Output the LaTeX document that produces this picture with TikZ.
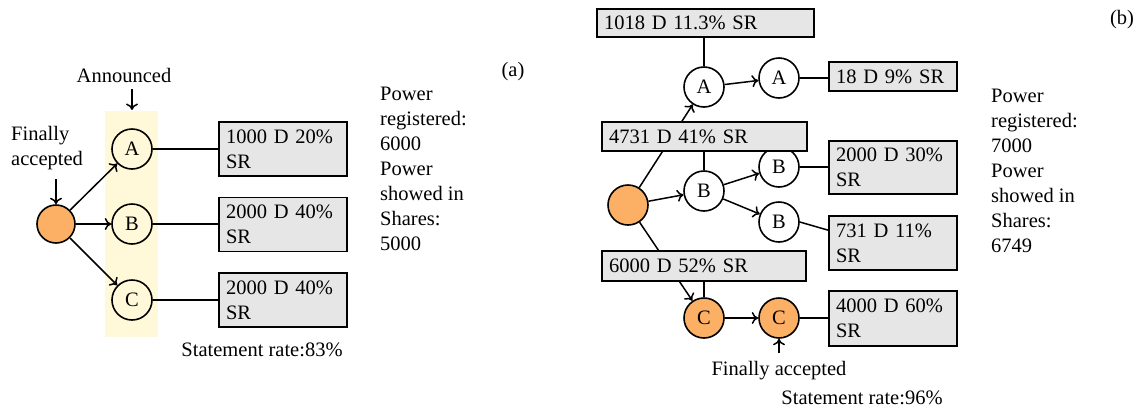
\documentclass[tikz,border=0pt]{standalone}
\usepackage{fontspec}
\setmainfont{Liberation Serif}
\usetikzlibrary{arrows.meta,backgrounds}
\definecolor{orfill}{RGB}{251,176,101}
\definecolor{bandc}{RGB}{255,249,218}
\definecolor{boxc}{RGB}{230,230,230}
\begin{document}
\begin{tikzpicture}[x=1pt,y=-1pt,
  every node/.style={font=\fontsize{20.5}{25}\selectfont},
  ln/.style={line width=1.5pt},
  arr/.style={ln,-{To[length=6.5pt,width=12pt]}},
  circ/.style={circle,draw,line width=1.6pt,minimum size=40pt,inner sep=0pt,fill=white},
  ocirc/.style={circ,fill=orfill},
  ycirc/.style={circ,fill=bandc},
  sbox/.style={draw,fill=boxc,line width=1.6pt,inner xsep=7pt,inner ysep=0pt,align=left},
  twobox/.style={sbox,text width=114pt,minimum height=54pt},
  txt/.style={inner sep=0pt}
]
\useasboundingbox (0,0) rectangle (1142,410);
% ---------- (a) ----------
\fill[bandc] (105,111) rectangle (158,337);
\node[ocirc,minimum size=38pt] (o1) at (56,224) {};
\node[ycirc] (aA) at (132,149) {A};
\node[ycirc] (aB) at (132,224) {B};
\node[ycirc] (aC) at (132,300) {C};
\node[twobox] (xA) at (283,149) {1000 D 20\%\\SR};
\node[twobox] (xB) at (283,224.5) {2000 D 40\%\\SR};
\node[twobox] (xC) at (283,300) {2000 D 40\%\\SR};
\draw[arr] (o1) -- (aA);
\draw[arr] (o1) -- (aB);
\draw[arr] (o1) -- (aC);
\draw[ln] (aA.east) -- (xA.west);
\draw[ln] (aB.east) -- (aB.east -| xB.west);
\draw[ln] (aC.east) -- (xC.west);
\node[txt] (ann) at (124,75) {Announced};
\coordinate (annt) at (132,89);
\draw[arr] (annt) -- (132,110);
\node[txt,align=left,anchor=west] (fa1) at (11,148) {Finally\\accepted};
\coordinate (fat) at (56,179);
\draw[arr] (fat) -- (o1.north);
\node[txt] (sr1) at (262,350) {Statement rate:83\%};
\node[txt] (la) at (513,72) {(a)};
\node[txt,align=left,anchor=north west] (pa) at (380,87) {Power\\registered:\\6000\\Power\\showed in\\Shares:\\5000};
% ---------- (b) ----------
\node[ocirc] (o2) at (628,205) {};
\node[circ] (A1) at (704,87) {A};
\node[circ] (A2) at (779,78) {A};
\node[circ] (B1) at (704,191) {B};
\node[circ] (B2) at (779,167) {B};
\node[circ] (B3) at (779,222) {B};
\node[ocirc] (C1) at (704,318) {C};
\node[ocirc] (C2) at (779,318) {C};
\draw[arr] (o2) -- (A1);
\draw[arr] (o2) -- (C1);
\node[sbox,text width=203pt,minimum height=28pt] (y1018) at (705.5,23) {1018 D 11.3\% SR};
\node[sbox,text width=114pt,minimum height=29pt] (y18) at (893,76.5) {18 D 9\% SR};
\node[sbox,line width=2.2pt,text width=191pt,minimum height=29pt] (y4731) at (704.5,136.5) {4731 D 41\% SR};
\node[twobox,minimum height=53pt] (y2000) at (893,167.5) {2000 D 30\%\\SR};
\node[twobox] (y731) at (893,243) {731 D 11\%\\SR};
\node[sbox,text width=190pt,minimum height=30pt] (y6000) at (704,266) {6000 D 52\% SR};
\node[twobox,minimum height=55pt] (y4000) at (893,318.5) {4000 D 60\%\\SR};
\draw[ln] (A1.north |- y1018.south) -- (A1.north);
\draw[arr] (A1) -- (A2);
\draw[ln] (A2.east) -- (A2.east -| y18.west);
\draw[ln] (B1.north |- y4731.south) -- (B1.north);
\draw[arr] (o2) -- (B1);
\draw[arr] (B1) -- (B2);
\draw[arr] (B1) -- (B3);
\draw[ln] (B2.east) -- (B2.east -| y2000.west);
\draw[ln] (B3.east) -- ([yshift=-15pt]y731.north west);
\draw[ln] (C1.north |- y6000.south) -- (C1.north);
\draw[arr] (C1) -- (C2);
\draw[ln] (C2.east) -- (C2.east -| y4000.west);
\coordinate (fbt) at (779,353);
\draw[arr] (fbt) -- (C2.south);
\node[txt] (fb) at (779,371) {Finally accepted};
\node[txt] (sr2) at (862,398) {Statement rate:96\%};
\node[txt] (lb) at (1122,20) {(b)};
\node[txt,align=left,anchor=north west] (pb) at (991,89) {Power\\registered:\\7000\\Power\\showed in\\Shares:\\6749};
\end{tikzpicture}
\end{document}
